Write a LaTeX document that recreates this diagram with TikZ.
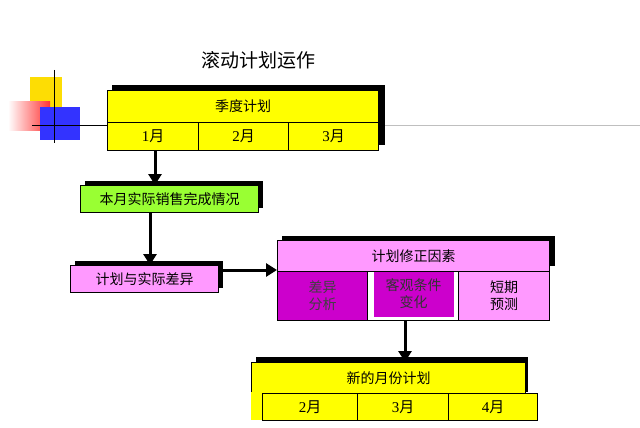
\documentclass[tikz,border=0pt]{standalone}
\usepackage{fontspec}
\setmainfont{Liberation Serif}
\newfontfamily\cjk{Noto Sans CJK SC}
\usetikzlibrary{arrows.meta}
\begin{document}
\begin{tikzpicture}[x=1pt,y=-1pt,
  box/.style={draw=black,line width=1pt,inner sep=0pt,font=\cjk\fontsize{14}{17}\selectfont},
  mon/.style={box,font=\fontsize{15}{17}\selectfont},
  shad/.style={fill=black},
  arr/.style={line width=3pt,-{Triangle[length=11pt,width=13pt]}}]
\useasboundingbox (0,0) rectangle (640,428);
\definecolor{yel}{HTML}{FFFF00}
\definecolor{grn}{HTML}{99FF33}
\definecolor{lpk}{HTML}{FF99FF}
\definecolor{mag}{HTML}{CC00CC}
\newcommand\yue{{\cjk 月}}
% title
\node (title) at (258,60) {\cjk\fontsize{19}{22}\selectfont 滚动计划运作};
% decoration
\fill[yellow!80!orange] (30,77) rectangle (62,110);
\shade[left color=white,right color=red!80] (8,101) rectangle (50,130);
\fill[blue!80] (40,107) rectangle (80,140);
\draw[gray!50,line width=0.8pt] (32,125) -- (640,125);
\draw[line width=0.8pt] (32,125) -- (107,125);
\draw[line width=0.8pt] (54,70) -- (54,143);
% top block
\fill[shad] (112,85) rectangle (385,145);
\node[box,fill=yel,minimum width=271pt,minimum height=32pt,anchor=north west] (q) at (107,90) {季度计划};
\node[mon,fill=yel,minimum width=91pt,minimum height=28pt,anchor=north west] (m1) at (107,122) {1\yue};
\node[mon,fill=yel,minimum width=90pt,minimum height=28pt,anchor=north west] (m2) at (198,122) {2\yue};
\node[mon,fill=yel,minimum width=90pt,minimum height=28pt,anchor=north west] (m3) at (288,122) {3\yue};
% green
\fill[shad] (85,181) rectangle (263,208);
\node[box,fill=grn,minimum width=178pt,minimum height=27pt,anchor=north west] (g) at (80,185) {本月实际销售完成情况};
% pink small
\fill[shad] (75,261) rectangle (223,288);
\node[box,fill=lpk,minimum width=148pt,minimum height=27pt,anchor=north west] (d) at (70,265) {计划与实际差异};
% factor block
\fill[shad] (282,236) rectangle (555,266);
\node[box,fill=lpk,minimum width=272pt,minimum height=31pt,anchor=north west] (f) at (277,240) {计划修正因素};
\fill[white,draw=black,line width=1pt] (277,271) rectangle (549,320);
\node[box,fill=mag,text=black!75,minimum width=90pt,minimum height=49pt,anchor=north west,align=center] (f1) at (277,271) {差异\\分析};
\node[box,draw=none,fill=mag,text=black!80,minimum width=80pt,minimum height=45pt,anchor=north west,align=center] (f2) at (373,271) {客观条件\\变化};
\node[box,fill=lpk,minimum width=91pt,minimum height=49pt,anchor=north west,align=center] (f3) at (458,271) {短期\\预测};
% new block
\fill[shad] (256,357) rectangle (528,392);
\node[box,fill=yel,minimum width=274pt,minimum height=31pt,anchor=north west] (n) at (251,362) {新的月份计划};
\fill[yel] (251,392) rectangle (262,420);
\node[mon,fill=yel,minimum width=95pt,minimum height=27pt,anchor=north west] (n1) at (262,393) {2\yue};
\node[mon,fill=yel,minimum width=91pt,minimum height=27pt,anchor=north west] (n2) at (357,393) {3\yue};
\node[mon,fill=yel,minimum width=89pt,minimum height=27pt,anchor=north west] (n3) at (448,393) {4\yue};
% arrows
\draw[arr] (155,150) -- (g.north -| 155,0);
\draw[arr] (150,212) -- (d.north -| 150,0);
\draw[arr] (d.east |- 0,270) -- (f.west |- 0,270);
\draw[arr] (405,320) -- (n.north -| 405,0);
\end{tikzpicture}
\end{document}
